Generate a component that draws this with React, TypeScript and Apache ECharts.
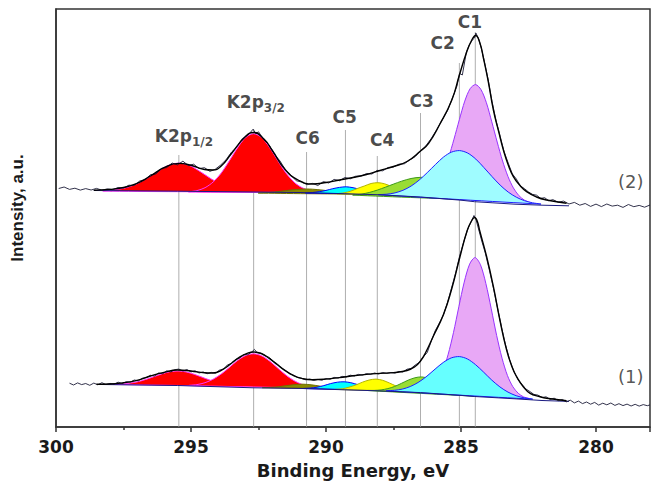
import React, { useEffect, useRef } from "react";
import * as echarts from "echarts";

// ---------- axis ----------
const xMin = 278;
const xMax = 300;
const xLabelValues = [280, 285, 290, 295, 300];
const xMajorTicks = [278, 280, 285, 290, 295, 300];
const xMinorTicks = [282.5, 287.5, 292.5, 297.5];
const yMin = 0;
const yMax = 418;

// ---------- peak markers ----------
const peakNames = ["K2p1/2", "K2p3/2", "C6", "C5", "C4", "C3", "C2", "C1"];
const peakCenters = [295.45, 292.68, 290.72, 289.28, 288.1, 286.5, 285.06, 284.47];
const peakLineTops = [272, 298, 275, 297, 271, 314, 364, 395];
const labelX = [295.26, 292.6, 290.68, 289.31, 287.92, 286.46, 285.68, 284.67];
const labelY = [290, 324, 288, 309, 286, 325, 383, 404];

const spectrumNames = ["(2)", "(1)"];
const spectrumLabelX = [278.71, 278.71];
const spectrumLabelY = [245.3, 50.3];

// ---------- spectrum (2), upper ----------
const rawUpper: number[][] = [
  [299.9, 238.5], [299.7, 240.0], [299.5, 237.6], [299.3, 238.8], [299.1, 236.9], [298.9, 238.4],
  [298.7, 237.0], [298.5, 238.6], [298.3, 236.8], [298.1, 238.1], [297.9, 237.4], [297.7, 239.5],
  [297.5, 239.0], [297.3, 241.8], [297.1, 241.6], [296.9, 246.0], [296.7, 247.4], [296.5, 252.3],
  [296.3, 253.0], [296.1, 258.6], [295.9, 259.4], [295.7, 264.0], [295.5, 262.1], [295.3, 265.8],
  [295.1, 261.5], [294.9, 262.8], [294.7, 258.4], [294.5, 259.3], [294.3, 255.6], [294.1, 257.8],
  [293.9, 262.0], [293.7, 267.3], [293.5, 274.9], [293.3, 280.2], [293.1, 288.4], [292.9, 291.5],
  [292.7, 297.8], [292.6, 293.4], [292.5, 295.2], [292.3, 287.1], [292.1, 281.7], [291.9, 272.4],
  [291.7, 265.9], [291.5, 257.0], [291.3, 251.8], [291.1, 246.2], [290.9, 245.0], [290.7, 242.3],
  [290.5, 243.6], [290.3, 241.5], [290.1, 245.4], [289.9, 244.0], [289.7, 247.6], [289.5, 246.3],
  [289.3, 249.5], [289.1, 248.2], [288.9, 250.8], [288.7, 251.0], [288.5, 253.4], [288.3, 253.0],
  [288.1, 256.6], [287.9, 256.2], [287.7, 259.5], [287.5, 260.0], [287.3, 262.8], [287.1, 263.2],
  [286.9, 267.0], [286.7, 270.3], [286.5, 276.0], [286.3, 281.2], [286.1, 288.6], [285.9, 297.4],
  [285.7, 307.0], [285.5, 316.3], [285.3, 330.2], [285.15, 341.0], [285.05, 353.6], [284.95, 352.0],
  [284.8, 375.0], [284.7, 381.6], [284.6, 386.3], [284.5, 389.0], [284.45, 394.0], [284.35, 388.4],
  [284.25, 379.0], [284.15, 367.5], [284.0, 348.0], [283.85, 325.4], [283.7, 306.0], [283.55, 290.7],
  [283.4, 275.0], [283.25, 263.8], [283.1, 253.1], [282.95, 248.0], [282.8, 241.0], [282.65, 238.4],
  [282.5, 235.0], [282.35, 232.6], [282.2, 231.8], [282.05, 228.6], [281.9, 229.3], [281.75, 226.2],
  [281.6, 227.4], [281.4, 224.8], [281.2, 225.9], [281.0, 223.0], [280.8, 224.6], [280.6, 221.8],
  [280.4, 223.5], [280.2, 220.6], [280.0, 222.9], [279.8, 220.4], [279.6, 223.0], [279.4, 220.9],
  [279.2, 221.8], [279.0, 219.6], [278.8, 222.5], [278.6, 220.3], [278.4, 221.6], [278.2, 219.8],
  [278.0, 222.0],
];
const fitUpper: number[][] = [
  [298.6, 236.8], [298.0, 237.6], [297.5, 239.5], [297.0, 243.6], [296.5, 251.0], [296.0, 259.3],
  [295.45, 263.6], [295.0, 261.7], [294.5, 257.5], [294.2, 257.0], [293.9, 260.5], [293.5, 273.5],
  [293.0, 290.0], [292.68, 294.5], [292.3, 288.0], [292.0, 277.0], [291.5, 257.0], [291.0, 246.5],
  [290.5, 243.0], [290.0, 244.5], [289.5, 247.0], [289.0, 249.5], [288.5, 252.5], [288.0, 256.5],
  [287.5, 260.5], [287.0, 265.5], [286.5, 276.0], [286.2, 283.7], [285.8, 302.0], [285.34, 327.0],
  [285.06, 352.0], [284.79, 375.0], [284.6, 387.0], [284.46, 391.5], [284.3, 384.0], [284.17, 369.0],
  [284.0, 347.0], [283.8, 317.0], [283.6, 295.0], [283.43, 277.0], [283.25, 262.0], [283.06, 250.3],
  [282.8, 241.0], [282.57, 235.3], [282.2, 230.0], [281.83, 227.0], [281.09, 223.7],
];
const baseUpper: number[][] = [
  [298.6, 236.5], [295.5, 235.8], [292.7, 235.0], [291.0, 234.5], [289.3, 233.3], [288.0, 232.2],
  [286.5, 230.0], [285.0, 226.8], [284.5, 225.3], [283.0, 222.8], [282.0, 221.8], [281.0, 221.2],
];
const k12Upper: number[][] = [
  [298.25, 235.9], [297.85, 237.1], [297.45, 239.0], [297.05, 242.6], [296.65, 248.3], [296.25, 255.3],
  [295.85, 261.4], [295.45, 263.9], [295.05, 261.4], [294.65, 255.2], [294.25, 248.1], [293.85, 242.3],
  [293.45, 238.6], [293.05, 236.4], [292.65, 235.2],
];
const k32Upper: number[][] = [
  [295.08, 235.0], [294.78, 236.4], [294.48, 239.3], [294.18, 245.0], [293.88, 254.0], [293.58, 266.2],
  [293.28, 279.1], [292.98, 289.4], [292.68, 293.3], [292.38, 289.4], [292.08, 279.1], [291.78, 266.1],
  [291.48, 253.9], [291.18, 244.8], [290.88, 239.2], [290.58, 236.3], [290.28, 234.9],
];
const c6Upper: number[][] = [
  [292.5, 233.9], [292.1, 234.5], [291.7, 235.7], [291.3, 237.0], [290.9, 237.8], [290.72, 238.0],
  [290.5, 237.8], [290.1, 236.8], [289.7, 235.3], [289.3, 234.0], [288.9, 233.0],
];
const c5Upper: number[][] = [
  [290.75, 234.0], [290.5, 234.5], [290.25, 235.3], [290.0, 236.6], [289.75, 238.3], [289.5, 239.6],
  [289.25, 240.2], [289.0, 239.3], [288.75, 237.7], [288.5, 236.0], [288.25, 234.5], [288.0, 233.4],
  [287.75, 232.8],
];
const c4Upper: number[][] = [
  [289.58, 233.2], [289.33, 234.2], [289.08, 235.9], [288.83, 238.6], [288.58, 241.0], [288.33, 243.5],
  [288.08, 244.3], [287.83, 243.2], [287.58, 240.5], [287.33, 237.3], [287.08, 234.3], [286.83, 232.1],
  [286.58, 230.9],
];
const c3Upper: number[][] = [
  [289.0, 231.9], [288.7, 232.8], [288.4, 234.5], [288.1, 236.9], [287.8, 239.8], [287.5, 242.9],
  [287.2, 245.8], [286.85, 248.5], [286.48, 249.7], [286.18, 248.4], [285.88, 245.3], [285.58, 241.3],
  [285.28, 237.1], [284.98, 233.1], [284.68, 230.3], [284.38, 228.4], [284.08, 227.0],
];
const c2Upper: number[][] = [
  [288.05, 232.3], [287.75, 232.8], [287.45, 234.1], [287.15, 236.7], [286.85, 240.9], [286.55, 246.9],
  [286.25, 254.4], [285.95, 262.4], [285.65, 269.9], [285.35, 274.9], [285.05, 276.4], [284.75, 273.9],
  [284.45, 267.9], [284.15, 259.4], [283.85, 250.4], [283.55, 241.9], [283.25, 234.9], [282.95, 229.8],
  [282.65, 226.3], [282.35, 224.2], [282.05, 222.9],
];
const c1Upper: number[][] = [
  [286.46, 230.8], [286.26, 232.8], [286.06, 236.7], [285.86, 243.7], [285.66, 254.5], [285.46, 269.4],
  [285.26, 287.8], [285.06, 307.4], [284.86, 325.9], [284.66, 338.4], [284.46, 342.4], [284.26, 337.4],
  [284.06, 324.3], [283.86, 305.2], [283.66, 285.0], [283.46, 266.0], [283.26, 250.5], [283.06, 239.1],
  [282.86, 231.5], [282.66, 227.0], [282.46, 224.4],
];

// ---------- spectrum (1), lower ----------
const rawLower: number[][] = [
  [299.5, 43.8], [299.35, 42.0], [299.2, 44.1], [299.05, 42.4], [298.9, 43.5], [298.75, 41.7],
  [298.6, 43.9], [298.45, 42.2], [298.3, 44.3], [298.15, 42.5], [298.0, 43.6], [297.85, 42.9],
  [297.7, 44.8], [297.55, 43.6], [297.4, 45.3], [297.25, 44.9], [297.1, 47.0], [296.95, 46.2],
  [296.8, 48.8], [296.65, 49.5], [296.5, 51.7], [296.35, 51.0], [296.2, 54.0], [296.05, 53.2],
  [295.9, 56.2], [295.75, 55.1], [295.6, 57.3], [295.45, 57.9], [295.3, 56.0], [295.15, 57.4],
  [295.0, 55.1], [294.85, 56.2], [294.7, 54.0], [294.55, 55.0], [294.4, 53.3], [294.25, 54.6],
  [294.1, 53.7], [293.95, 56.8], [293.8, 57.9], [293.65, 62.1], [293.5, 63.6], [293.35, 67.5],
  [293.2, 68.8], [293.05, 72.4], [292.9, 72.3], [292.75, 75.0], [292.65, 77.6], [292.55, 74.3],
  [292.4, 73.8], [292.25, 71.2], [292.1, 69.6], [291.95, 65.4], [291.8, 63.1], [291.65, 59.0],
  [291.5, 56.6], [291.35, 53.2], [291.2, 51.8], [291.05, 49.5], [290.9, 48.7], [290.75, 47.2],
  [290.6, 47.9], [290.45, 46.6], [290.3, 47.6], [290.15, 46.8], [290.0, 48.5], [289.85, 47.7],
  [289.7, 49.6], [289.55, 49.0], [289.4, 50.6], [289.25, 50.1], [289.1, 51.8], [288.95, 51.0],
  [288.8, 52.6], [288.65, 51.9], [288.5, 53.4], [288.35, 52.6], [288.2, 54.0], [288.05, 53.0],
  [287.9, 54.5], [287.75, 53.6], [287.6, 54.4], [287.45, 53.9], [287.3, 55.6], [287.15, 55.0],
  [287.0, 57.8], [286.85, 58.5], [286.7, 61.9], [286.55, 64.5], [286.4, 70.0], [286.25, 74.5],
  [286.1, 86.0], [285.95, 96.5], [285.8, 104.0], [285.65, 112.0], [285.5, 124.5], [285.35, 139.0],
  [285.2, 154.0], [285.05, 171.0], [284.9, 185.0], [284.75, 198.0], [284.62, 205.5], [284.52, 211.5],
  [284.45, 208.0], [284.35, 198.0], [284.22, 185.0], [284.1, 174.0], [283.95, 157.0], [283.8, 139.0],
  [283.65, 119.5], [283.5, 100.0], [283.35, 82.0], [283.2, 67.5], [283.05, 56.0], [282.9, 48.0],
  [282.75, 42.8], [282.6, 38.1], [282.45, 35.5], [282.3, 32.6], [282.15, 31.9], [282.0, 29.4],
  [281.85, 30.2], [281.7, 27.6], [281.55, 28.8], [281.4, 26.4], [281.25, 27.5], [281.1, 25.2],
  [280.95, 26.8], [280.8, 24.1], [280.65, 25.9], [280.5, 23.4], [280.35, 25.0], [280.2, 22.8],
  [280.05, 24.6], [279.9, 21.9], [279.75, 23.8], [279.6, 22.2], [279.45, 24.0], [279.3, 21.6],
  [279.15, 23.3], [279.0, 21.4], [278.85, 22.9], [278.7, 21.0], [278.55, 22.7], [278.4, 20.9],
  [278.25, 22.4], [278.1, 21.3], [278.0, 22.1],
];
const fitLower: number[][] = [
  [298.5, 42.8], [298.0, 43.0], [297.5, 44.2], [297.0, 46.6], [296.5, 51.0], [296.0, 54.6],
  [295.5, 57.0], [295.0, 56.0], [294.5, 54.2], [294.2, 54.0], [293.8, 57.8], [293.5, 63.8],
  [293.2, 69.8], [292.9, 73.8], [292.68, 75.0], [292.4, 73.5], [292.1, 68.6], [291.8, 62.2],
  [291.5, 56.2], [291.2, 51.4], [290.9, 48.6], [290.5, 47.3], [290.0, 47.9], [289.5, 49.4],
  [289.0, 51.2], [288.5, 52.6], [288.0, 53.6], [287.5, 54.4], [287.0, 56.5], [286.7, 60.5],
  [286.5, 66.0], [286.3, 75.0], [286.03, 90.5], [285.65, 112.5], [285.34, 138.5], [285.04, 170.0],
  [284.77, 196.5], [284.6, 206.5], [284.5, 209.5], [284.4, 206.0], [284.3, 195.5], [284.05, 170.3],
  [283.8, 140.3], [283.56, 107.0], [283.31, 77.0], [283.1, 59.5], [282.94, 50.3], [282.7, 40.5],
  [282.44, 33.7], [282.1, 30.5], [281.83, 28.7], [281.09, 26.3],
];
const baseLower: number[][] = [
  [298.3, 42.5], [295.5, 41.5], [292.7, 39.2], [291.0, 38.6], [289.3, 37.2], [288.0, 36.1],
  [286.5, 34.4], [285.0, 31.6], [284.5, 30.5], [283.0, 28.2], [282.0, 26.5], [281.0, 25.6],
];
const k12Lower: number[][] = [
  [297.88, 42.6], [297.58, 43.0], [297.28, 43.8], [296.98, 45.2], [296.68, 47.5], [296.38, 50.3],
  [296.08, 53.1], [295.78, 55.3], [295.48, 56.0], [295.18, 55.1], [294.88, 52.7], [294.58, 49.7],
  [294.28, 46.7], [293.98, 44.2], [293.68, 42.6], [293.38, 41.6], [293.08, 40.8],
];
const k32Lower: number[][] = [
  [295.08, 41.5], [294.78, 42.4], [294.48, 44.3], [294.18, 47.8], [293.88, 53.0], [293.58, 59.6],
  [293.28, 66.4], [292.98, 71.4], [292.68, 73.2], [292.38, 71.1], [292.08, 65.8], [291.78, 58.7],
  [291.48, 51.8], [291.18, 46.3], [290.88, 42.5], [290.58, 40.3], [290.28, 39.0],
];
const c6Lower: number[][] = [
  [292.35, 39.3], [292.05, 39.6], [291.75, 40.3], [291.45, 41.4], [291.15, 42.4], [290.85, 42.8],
  [290.55, 42.2], [290.25, 41.0], [289.95, 39.7], [289.65, 38.8], [289.35, 38.3],
];
const c5Lower: number[][] = [
  [290.83, 38.5], [290.58, 38.9], [290.33, 39.8], [290.08, 41.4], [289.83, 43.4], [289.58, 44.8],
  [289.33, 45.2], [289.08, 44.3], [288.83, 42.4], [288.58, 40.3], [288.33, 38.5], [288.08, 37.2],
  [287.83, 36.7],
];
const c4Lower: number[][] = [
  [289.65, 37.6], [289.4, 38.2], [289.15, 39.8], [288.9, 42.0], [288.65, 44.8], [288.4, 47.0],
  [288.15, 47.9], [287.9, 46.7], [287.65, 44.0], [287.4, 40.9], [287.15, 38.2], [286.9, 36.5],
  [286.65, 35.6],
];
const c3Lower: number[][] = [
  [288.46, 36.5], [288.21, 36.6], [287.96, 37.1], [287.71, 38.4], [287.46, 40.5], [287.21, 43.6],
  [286.96, 46.8], [286.71, 49.2], [286.46, 50.1], [286.21, 48.6], [285.96, 45.5], [285.71, 41.6],
  [285.46, 37.9], [285.21, 35.0], [284.96, 32.8], [284.71, 31.5], [284.46, 30.8],
];
const c2Lower: number[][] = [
  [287.76, 36.2], [287.46, 36.7], [287.16, 38.0], [286.86, 40.7], [286.56, 45.0], [286.26, 50.9],
  [285.96, 57.9], [285.66, 64.5], [285.36, 69.1], [285.06, 70.4], [284.76, 68.0], [284.46, 62.3],
  [284.16, 54.8], [283.86, 46.9], [283.56, 40.1], [283.26, 34.9], [282.96, 31.3], [282.66, 29.2],
  [282.36, 27.9],
];
const c1Lower: number[][] = [
  [286.28, 36.3], [286.08, 39.2], [285.88, 45.1], [285.68, 55.6], [285.48, 72.2], [285.28, 94.3],
  [285.08, 120.2], [284.88, 144.9], [284.68, 162.9], [284.48, 169.4], [284.28, 162.3], [284.08, 143.6],
  [283.88, 118.2], [283.68, 91.6], [283.48, 68.8], [283.28, 51.5], [283.08, 40.3], [282.88, 33.7],
  [282.68, 30.1], [282.48, 28.4],
];

// component styles (fill, outline)
const compStyles = {
  k12: { fill: "#ff0000", stroke: "#ff33ff" },
  k32: { fill: "#ff0000", stroke: "#ff33ff" },
  c6: { fill: "#8a8a00", stroke: "#6f6f00" },
  c5: { fill: "#00ffff", stroke: "#0000ff" },
  c4: { fill: "#ffff00", stroke: "#b5b500" },
  c3: { fill: "#99dd33", stroke: "#3d9a1a" },
  c1: { fill: "#e8a8f6", stroke: "#9933ff" },
  c2: { fill: "#9ffcff", stroke: "#1f1fff" },
};
const c2LowerFill = "#66ffff";

const FONT = "DejaVu Sans";

function areaSeries(pts: number[][], fill: string, stroke: string): any {
  return {
    type: "custom",
    coordinateSystem: "cartesian2d",
    silent: true,
    clip: true,
    z: 2,
    data: [pts[0]],
    renderItem: (_params: any, api: any) => ({
      type: "polygon",
      shape: { points: pts.map((p) => api.coord(p)), smooth: 0.3 },
      style: { fill, stroke, lineWidth: 1 },
    }),
  };
}

function lineSeries(pts: number[][], color: string, width: number, smooth: boolean, z: number): any {
  return {
    type: "line",
    data: pts,
    showSymbol: false,
    symbol: "none",
    smooth,
    silent: true,
    z,
    lineStyle: { color, width },
  };
}

export default function App() {
  const ref = useRef<HTMLDivElement>(null);

  useEffect(() => {
    document.body.style.margin = "0";
    if (!ref.current) return;
    const chart = echarts.init(ref.current, undefined, { renderer: "svg" });

    const upperComps: [number[][], any, string?][] = [
      [k12Upper, compStyles.k12], [k32Upper, compStyles.k32], [c6Upper, compStyles.c6],
      [c5Upper, compStyles.c5], [c4Upper, compStyles.c4], [c3Upper, compStyles.c3],
      [c1Upper, compStyles.c1], [c2Upper, compStyles.c2],
    ];
    const lowerComps: [number[][], any, string?][] = [
      [k12Lower, compStyles.k12], [k32Lower, compStyles.k32], [c6Lower, compStyles.c6],
      [c5Lower, compStyles.c5], [c4Lower, compStyles.c4], [c3Lower, compStyles.c3],
      [c1Lower, compStyles.c1], [c2Lower, compStyles.c2, c2LowerFill],
    ];

    const series: any[] = [];

    peakCenters.forEach((x, i) => {
      series.push(lineSeries([[x, peakLineTops[i]], [x, yMin]], "#9a9a9a", 0.8, false, 1));
    });

    upperComps.forEach(([pts, st, f]) => series.push(areaSeries(pts, f || st.fill, st.stroke)));
    lowerComps.forEach(([pts, st, f]) => series.push(areaSeries(pts, f || st.fill, st.stroke)));

    series.push(lineSeries(baseUpper, "#1a1a80", 1, false, 3));
    series.push(lineSeries(baseLower, "#1a1a80", 1, false, 3));

    series.push(lineSeries(rawUpper, "#1c1c38", 0.9, false, 4));
    series.push(lineSeries(rawLower, "#1c1c38", 0.9, false, 4));
    series.push(lineSeries(fitUpper, "#000000", 1.4, true, 4));
    series.push(lineSeries(fitLower, "#000000", 1.4, true, 4));

    const rich = {
      m: { fontFamily: FONT, fontWeight: "bold", fontSize: 17, color: "#1a1a1a", lineHeight: 20, verticalAlign: "top" },
      s: { fontFamily: FONT, fontWeight: "bold", fontSize: 12, color: "#1a1a1a", lineHeight: 12, padding: [9, 0, 0, 0], verticalAlign: "top" },
    };
    series.push({
      type: "scatter",
      silent: true,
      z: 6,
      symbolSize: 1,
      itemStyle: { color: "rgba(0,0,0,0)" },
      data: peakNames.map((n, i) => ({ value: [labelX[i], labelY[i]], name: n })),
      label: {
        show: true,
        position: "inside",
        formatter: (p: any) => {
          const n: string = p.name;
          if (n.startsWith("K2p")) return `{m|K2p}{s|${n.slice(3)}}`;
          return `{m|${n}}`;
        },
        rich,
      },
    });
    series.push({
      type: "scatter",
      silent: true,
      z: 6,
      symbolSize: 1,
      itemStyle: { color: "rgba(0,0,0,0)" },
      data: spectrumNames.map((n, i) => ({ value: [spectrumLabelX[i], spectrumLabelY[i]], name: n })),
      label: {
        show: true,
        position: "inside",
        formatter: "{b}",
        fontFamily: FONT,
        fontSize: 18,
        color: "#2a2a2a",
      },
    });

    const axisLineStyle = { color: "#333", width: 1.5 };

    chart.setOption({
      animation: false,
      backgroundColor: "#ffffff",
      grid: {
        left: 56, right: 17, top: 9, bottom: 63,
        show: true, borderColor: "#333", borderWidth: 1.5,
        containLabel: false, outerBoundsMode: "none",
      },
      xAxis: [
        {
          type: "value", min: xMin, max: xMax, inverse: true, position: "bottom",
          name: "Binding Energy, eV", nameLocation: "middle", nameGap: 34,
          nameTextStyle: { fontFamily: FONT, fontWeight: "bold", fontSize: 18, color: "#1a1a1a" },
          axisLine: { show: true, lineStyle: axisLineStyle },
          axisTick: { show: true, inside: false, length: 5, customValues: xMajorTicks, lineStyle: axisLineStyle },
          axisLabel: { show: true, customValues: xLabelValues, margin: 11, fontFamily: FONT, fontWeight: "bold", fontSize: 17, color: "#1a1a1a" },
          splitLine: { show: false },
        },
        {
          type: "value", min: xMin, max: xMax, inverse: true, position: "bottom",
          axisLine: { show: false },
          axisTick: { show: true, inside: false, length: 3, customValues: xMinorTicks, lineStyle: axisLineStyle },
          axisLabel: { show: false },
          splitLine: { show: false },
        },
      ],
      yAxis: {
        type: "value", min: yMin, max: yMax,
        name: "Intensity, a.u.", nameLocation: "middle", nameGap: 30, nameRotate: 90,
        nameTextStyle: { fontFamily: "Arial", fontWeight: "bold", fontSize: 17, color: "#1a1a1a", padding: [0, 0, 0, 20] },
        axisLine: { show: true, lineStyle: axisLineStyle },
        axisTick: { show: false },
        axisLabel: { show: false },
        splitLine: { show: false },
      },
      series,
    });

    return () => chart.dispose();
  }, []);

  return <div ref={ref} style={{ width: 667, height: 490 }} />;
}
